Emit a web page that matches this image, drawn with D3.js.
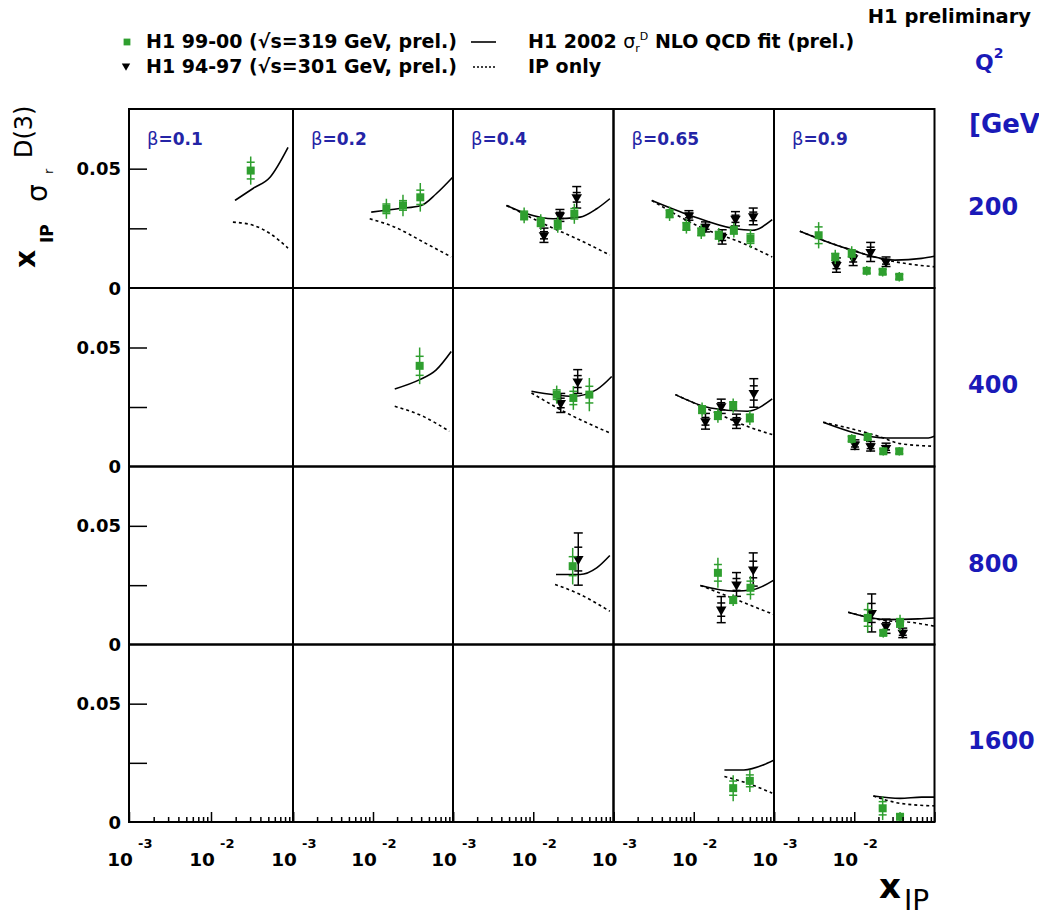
<!DOCTYPE html>
<html>
<head>
<meta charset="utf-8">
<title>H1 diffractive reduced cross section</title>
<script src="https://cdn.jsdelivr.net/npm/d3@7"></script>
<style>
    body { margin: 0; background: #fff; }
    svg { display: block; font-family: "DejaVu Sans", sans-serif; }
</style>
</head>
<body>
<div id="canvas"></div>
<script>
(function(){

    var betaLabels = ["0.1", "0.2", "0.4", "0.65", "0.9"];
    var q2Labels = ["200", "400", "800", "1600"];
    var yTickValues = [0.025, 0.05];
    var yTickLabels = [["0.05", 0.05], ["0", 0]];
    var xLabelTicks = [1e-3, 1e-2];
    var xLabelExps = ["-3", "-2"];

    // [Q2 row, beta column, xIP, value, stat err, total err]
    var h1_9900 = [
        [0,0,0.0305,0.0492,0.0035,0.0059],
        [0,1,0.0147,0.0332,0.002,0.0042],
        [0,1,0.0237,0.0346,0.002,0.0045],
        [0,1,0.039,0.038,0.003,0.006],
        [0,2,0.0077,0.0304,0.0018,0.0033],
        [0,2,0.0124,0.0276,0.0018,0.0033],
        [0,2,0.0202,0.0265,0.0018,0.0033],
        [0,2,0.0325,0.0311,0.0022,0.0042],
        [0,3,0.0050,0.0311,0.0016,0.003],
        [0,3,0.0081,0.0258,0.0016,0.003],
        [0,3,0.0124,0.0235,0.0016,0.003],
        [0,3,0.0205,0.0221,0.0016,0.003],
        [0,3,0.0316,0.0242,0.0016,0.003],
        [0,3,0.0509,0.0207,0.002,0.004],
        [0,4,0.0036,0.0221,0.0035,0.0055],
        [0,4,0.0058,0.0130,0.0015,0.003],
        [0,4,0.0093,0.0145,0.0015,0.003],
        [0,4,0.0143,0.0072,0.001,0.002],
        [0,4,0.0226,0.0068,0.001,0.002],
        [0,4,0.0364,0.0047,0.001,0.002],
        [1,1,0.0383,0.0423,0.004,0.0077],
        [1,2,0.0196,0.0302,0.002,0.0038],
        [1,2,0.0316,0.0288,0.0028,0.005],
        [1,2,0.0500,0.0302,0.0035,0.007],
        [1,3,0.0127,0.0239,0.0016,0.003],
        [1,3,0.0200,0.0214,0.0016,0.003],
        [1,3,0.0310,0.0256,0.0016,0.003],
        [1,3,0.0500,0.0204,0.0016,0.003],
        [1,4,0.0093,0.0116,0.001,0.002],
        [1,4,0.0147,0.0124,0.001,0.002],
        [1,4,0.0230,0.0064,0.001,0.0018],
        [1,4,0.0364,0.0064,0.001,0.0018],
        [2,2,0.0310,0.0330,0.004,0.0077],
        [2,3,0.0200,0.0302,0.0035,0.0063],
        [2,3,0.0310,0.0187,0.0013,0.0025],
        [2,3,0.0509,0.0239,0.0028,0.005],
        [2,4,0.0147,0.0112,0.0035,0.0063],
        [2,4,0.0230,0.0049,0.001,0.002],
        [2,4,0.0372,0.0091,0.0018,0.0034],
        [3,3,0.0310,0.0143,0.003,0.0055],
        [3,3,0.0500,0.0174,0.0025,0.0047],
        [3,4,0.0226,0.0058,0.0028,0.005],
        [3,4,0.0372,0.0022,0.001,0.002]
    ];

    var h1_9497 = [
        [0,2,0.0136,0.0221,0.0015,0.003],
        [0,2,0.0215,0.0304,0.0013,0.0025],
        [0,2,0.0348,0.0380,0.002,0.0045],
        [0,3,0.0087,0.0304,0.001,0.002],
        [0,3,0.0140,0.0256,0.001,0.0021],
        [0,3,0.0226,0.0214,0.0015,0.003],
        [0,3,0.0331,0.0290,0.0015,0.003],
        [0,3,0.0551,0.0300,0.0018,0.0035],
        [0,4,0.0060,0.0096,0.0015,0.003],
        [0,4,0.0097,0.0124,0.0015,0.003],
        [0,4,0.0160,0.0151,0.002,0.004],
        [0,4,0.0249,0.0110,0.001,0.002],
        [1,2,0.0220,0.0267,0.002,0.004],
        [1,2,0.0358,0.0357,0.0025,0.005],
        [1,3,0.0140,0.0190,0.0016,0.0033],
        [1,3,0.0220,0.0253,0.0015,0.003],
        [1,3,0.0341,0.0190,0.0015,0.003],
        [1,3,0.0560,0.0309,0.003,0.006],
        [1,4,0.0102,0.0092,0.001,0.002],
        [1,4,0.0160,0.0085,0.001,0.002],
        [1,4,0.0249,0.0078,0.001,0.002],
        [2,2,0.0364,0.0360,0.005,0.011],
        [2,3,0.0220,0.0147,0.0028,0.0055],
        [2,3,0.0341,0.0253,0.0025,0.005],
        [2,3,0.0551,0.0316,0.0035,0.007],
        [2,4,0.0165,0.0133,0.004,0.008],
        [2,4,0.0249,0.0077,0.0015,0.003],
        [2,4,0.0402,0.0049,0.001,0.002]
    ];

    // [Q2 row, beta column, [[xIP, value], ...]]
    var nloFit = [
        [0,0,[[0.0196,0.0367],[0.0325,0.0417],[0.0525,0.0464],[0.087,0.0589]]],
        [0,1,[[0.0095,0.0318],[0.0215,0.0333],[0.040,0.0346],[0.0617,0.0395],[0.099,0.0464]]],
        [0,2,[[0.0046,0.0346],[0.0083,0.0311],[0.0178,0.0290],[0.0383,0.0297],[0.0617,0.0332],[0.090,0.0374]]],
        [0,3,[[0.0030,0.0367],[0.0091,0.0304],[0.0316,0.0249],[0.0535,0.0242],[0.095,0.0286]]],
        [0,4,[[0.0021,0.0238],[0.0081,0.0165],[0.0322,0.0117],[0.0692,0.0124],[0.0997,0.0133]]],
        [1,1,[[0.0187,0.0326],[0.0383,0.0365],[0.0617,0.0406],[0.095,0.0483]]],
        [1,2,[[0.0095,0.0316],[0.0316,0.0295],[0.0617,0.0323],[0.095,0.0378]]],
        [1,3,[[0.0059,0.0302],[0.0162,0.0246],[0.0463,0.0232],[0.095,0.0284]]],
        [1,4,[[0.0041,0.0186],[0.0254,0.0120],[0.0838,0.0120],[0.0997,0.0127]]],
        [2,2,[[0.0192,0.0295],[0.0383,0.0295],[0.0617,0.0323],[0.090,0.0375]]],
        [2,3,[[0.0121,0.0249],[0.0316,0.0225],[0.056,0.0232],[0.0995,0.0271]]],
        [2,4,[[0.0084,0.0136],[0.0254,0.0105],[0.0628,0.0108],[0.0997,0.0112]]],
        [3,3,[[0.0241,0.0220],[0.042,0.0220],[0.0746,0.0242],[0.0977,0.0260]]],
        [3,4,[[0.0173,0.0110],[0.0372,0.0100],[0.0692,0.0105],[0.0997,0.0105]]]
    ];

    var pomOnly = [
        [0,0,[[0.0185,0.0276],[0.0325,0.0263],[0.0525,0.0228],[0.087,0.0167]]],
        [0,1,[[0.0091,0.0290],[0.0178,0.0258],[0.0463,0.0186],[0.095,0.0130]]],
        [0,2,[[0.0047,0.0346],[0.0147,0.0263],[0.0383,0.0200],[0.090,0.0138]]],
        [0,3,[[0.0030,0.0367],[0.0121,0.0255],[0.042,0.0186],[0.095,0.0130]]],
        [0,4,[[0.0021,0.0238],[0.0081,0.0165],[0.0322,0.0110],[0.0495,0.0100],[0.0997,0.0089]]],
        [1,1,[[0.0187,0.0253],[0.042,0.0211],[0.090,0.0148]]],
        [1,2,[[0.0095,0.0309],[0.0261,0.0225],[0.090,0.0141]]],
        [1,3,[[0.0059,0.0302],[0.0162,0.0236],[0.0463,0.0169],[0.095,0.0134]]],
        [1,4,[[0.0041,0.0186],[0.0209,0.0125],[0.0372,0.0096],[0.0997,0.0085]]],
        [2,2,[[0.0187,0.0253],[0.0383,0.0211],[0.090,0.0140]]],
        [2,3,[[0.0121,0.0249],[0.0383,0.0182],[0.0995,0.0126]]],
        [2,4,[[0.0084,0.0136],[0.0254,0.0100],[0.0495,0.0094],[0.0997,0.0077]]],
        [3,3,[[0.0241,0.0192],[0.0463,0.0164],[0.095,0.0122]]],
        [3,4,[[0.0173,0.0110],[0.0372,0.0079],[0.0997,0.0068]]]
    ];

    var width = 1039, height = 917;
    var colEdges = [129, 293, 453, 613.5, 774, 934.5];
    var rowEdges = [109, 288, 466.5, 644.5, 822];
    var green = "#2f9f2f", betaBlue = "#2424a6", qBlue = "#1a1ab8";

    var svg = d3.select("#canvas").append("svg").attr("width", width).attr("height", height);

    function xScale(col){
        return d3.scaleLog().domain([1e-3, 1e-1]).range([colEdges[col], colEdges[col + 1]]);
    }
    function yScale(row){
        return d3.scaleLinear().domain([0, 0.075]).range([rowEdges[row + 1], rowEdges[row]]);
    }

    function drawCurves(list, dash){
        list.forEach(function(c){
            var x = xScale(c[1]), y = yScale(c[0]);
            var line = d3.line()
                .x(function(d){ return x(d[0]); })
                .y(function(d){ return y(d[1]); })
                .curve(d3.curveMonotoneX);
            svg.append("path").datum(c[2])
                .attr("d", line)
                .attr("fill", "none")
                .attr("stroke", "#000")
                .attr("stroke-width", 1.6)
                .attr("stroke-dasharray", dash);
        });
    }

    function drawPoints(list, colour, symbol, caps){
        var g = svg.append("g").attr("stroke", colour).attr("stroke-width", 1.5);
        list.forEach(function(p){
            var x = xScale(p[1]), y = yScale(p[0]);
            var cx = x(p[2]), cy = y(p[3]);
            g.append("line").attr("x1", cx).attr("x2", cx).attr("y1", y(p[3] - p[5])).attr("y2", y(p[3] + p[5]));
            [-1, 1].forEach(function(s){
                g.append("line").attr("x1", cx - 4).attr("x2", cx + 4)
                    .attr("y1", y(p[3] + s * p[4])).attr("y2", y(p[3] + s * p[4]));
                if(caps){
                    g.append("line").attr("x1", cx - 4.5).attr("x2", cx + 4.5)
                        .attr("y1", y(p[3] + s * p[5])).attr("y2", y(p[3] + s * p[5]));
                }
            });
            g.append("path")
                .attr("d", symbol)
                .attr("transform", "translate(" + cx + "," + cy + ")")
                .attr("fill", colour)
                .attr("stroke", "none");
        });
    }

    drawCurves(pomOnly, "3,3");
    drawCurves(nloFit, null);

    var square = d3.symbol().type(d3.symbolSquare).size(64)();
    var triangle = d3.symbol().type(d3.symbolTriangle).size(48)();
    var triangleDown = "M" + triangle.slice(1).split(/(?=[LZ])/).map(function(s){
        if(s[0] === "Z") return "";
        var xy = s.replace(/[ML]/, "").split(",");
        return (s[0] === "L" ? "L" : "") + xy[0] + "," + (-xy[1]);
    }).join("") + "Z";

    drawPoints(h1_9497, "#000", triangleDown, true);
    drawPoints(h1_9900, green, square, false);

    // panel frames
    q2Labels.forEach(function(q, r){
        betaLabels.forEach(function(b, c){
            svg.append("rect")
                .attr("x", colEdges[c]).attr("y", rowEdges[r])
                .attr("width", colEdges[c + 1] - colEdges[c])
                .attr("height", rowEdges[r + 1] - rowEdges[r])
                .attr("fill", "none").attr("stroke", "#000").attr("stroke-width", 2);
        });
    });

    // y axes on the left column, Q2 values on the right
    q2Labels.forEach(function(q, r){
        var y = yScale(r);
        var g = svg.append("g").attr("transform", "translate(" + colEdges[0] + ",0)")
            .call(d3.axisLeft(y).tickValues(yTickValues).tickSize(-18).tickFormat(""));
        g.select(".domain").remove();
        g.selectAll("line").attr("stroke", "#000").attr("stroke-width", 1.5);
        yTickLabels.forEach(function(t){
            svg.append("text")
                .attr("x", colEdges[0] - 8).attr("y", y(t[1]) + 6.5)
                .attr("text-anchor", "end").attr("font-weight", "bold").attr("font-size", 18)
                .text(t[0]);
        });
        svg.append("text")
            .attr("x", 968).attr("y", (rowEdges[r] + rowEdges[r + 1]) / 2 + 16)
            .attr("fill", qBlue).attr("font-weight", "bold").attr("font-size", 24)
            .text(q);
    });

    // x axes on the bottom row, beta labels on the top row
    betaLabels.forEach(function(b, c){
        var x = xScale(c);
        var ticks = x.ticks();
        var isMajor = function(t){ return Math.abs(Math.log10(t) - Math.round(Math.log10(t))) < 1e-6; };
        [[ticks.filter(function(t){ return !isMajor(t); }), -5], [ticks.filter(isMajor), -10]].forEach(function(set){
            var g = svg.append("g").attr("transform", "translate(0," + rowEdges[4] + ")")
                .call(d3.axisBottom(x).tickValues(set[0]).tickSize(set[1]).tickFormat(""));
            g.select(".domain").remove();
            g.selectAll("line").attr("stroke", "#000").attr("stroke-width", 1.5);
        });
        xLabelTicks.forEach(function(t, i){
            svg.append("text")
                .attr("x", x(t) + 4).attr("y", 866)
                .attr("text-anchor", "end").attr("font-weight", "bold").attr("font-size", 18.5)
                .text("10");
            svg.append("text")
                .attr("x", x(t) + 9).attr("y", 848)
                .attr("font-weight", "bold").attr("font-size", 13)
                .text(xLabelExps[i]);
        });
        var bl = svg.append("text")
            .attr("x", colEdges[c] + 18).attr("y", rowEdges[0] + 36)
            .attr("fill", betaBlue);
        bl.append("tspan").attr("font-size", 18).text("β");
        bl.append("tspan").attr("font-size", 17).attr("font-weight", "bold").text("=" + b);
    });

    // axis titles
    var yt = svg.append("g").attr("transform", "rotate(-90)");
    yt.append("text").attr("x", -268).attr("y", 35).attr("font-weight", "bold").attr("font-size", 28).text("x");
    yt.append("text").attr("x", -243).attr("y", 53).attr("font-weight", "bold").attr("font-size", 17).text("IP");
    yt.append("text").attr("x", -202).attr("y", 47).attr("font-size", 28).text("σ");
    yt.append("text").attr("x", -174).attr("y", 53).attr("font-size", 13).text("r");
    yt.append("text").attr("x", -158).attr("y", 32).attr("font-size", 24).text("D(3)");

    svg.append("text").attr("x", 879).attr("y", 898).attr("font-weight", "bold").attr("font-size", 34).text("x");
    svg.append("text").attr("x", 904).attr("y", 910).attr("font-size", 28).text("IP");

    // header texts
    svg.append("text").attr("x", 1031).attr("y", 23)
        .attr("text-anchor", "end").attr("font-weight", "bold").attr("font-size", 19.5)
        .text("H1 preliminary");
    var qt = svg.append("text").attr("x", 975).attr("y", 70)
        .attr("fill", qBlue).attr("font-weight", "bold").attr("font-size", 22);
    qt.append("tspan").text("Q");
    qt.append("tspan").attr("font-size", 14).attr("dy", -12).text("2");
    var gt = svg.append("text").attr("x", 969).attr("y", 133)
        .attr("fill", qBlue).attr("font-weight", "bold").attr("font-size", 26);
    gt.append("tspan").text("[GeV");
    gt.append("tspan").attr("font-size", 15).attr("dy", -12).text("2");
    gt.append("tspan").attr("dy", 12).text("]");

    // legend
    svg.append("path").attr("d", square).attr("transform", "translate(127,42) scale(0.85)").attr("fill", green);
    svg.append("path").attr("d", triangleDown).attr("transform", "translate(126,66) scale(0.8)").attr("fill", "#000");
    svg.append("line").attr("x1", 471).attr("x2", 496).attr("y1", 42).attr("y2", 42)
        .attr("stroke", "#000").attr("stroke-width", 1.6);
    svg.append("line").attr("x1", 473).attr("x2", 496).attr("y1", 67).attr("y2", 67)
        .attr("stroke", "#000").attr("stroke-width", 1.6).attr("stroke-dasharray", "2,2");

    var legendText = [
        [146, 48, "H1 99-00 (√s=319 GeV, prel.)"],
        [146, 73, "H1 94-97 (√s=301 GeV, prel.)"],
        [528, 73, "IP only"]
    ];
    legendText.forEach(function(t){
        svg.append("text").attr("x", t[0]).attr("y", t[1])
            .attr("font-weight", "bold").attr("font-size", 19).text(t[2]);
    });
    var fl = svg.append("text").attr("x", 528).attr("y", 48)
        .attr("font-weight", "bold").attr("font-size", 19);
    fl.append("tspan").text("H1 2002 ");
    fl.append("tspan").attr("font-weight", "normal").text("σ");
    fl.append("tspan").attr("font-weight", "normal").attr("font-size", 11).attr("dy", 4).text("r");
    fl.append("tspan").attr("font-weight", "normal").attr("font-size", 11).attr("dy", -12).text("D");
    fl.append("tspan").attr("dy", 8).text(" NLO QCD fit (prel.)");

})();
</script>
</body>
</html>
